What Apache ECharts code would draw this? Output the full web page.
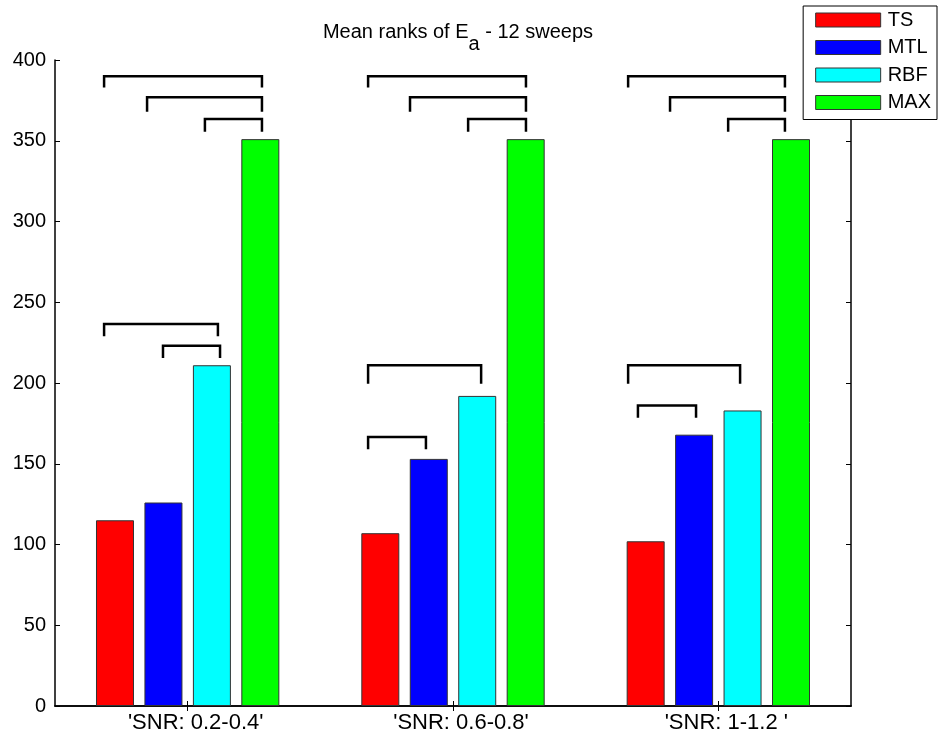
<!DOCTYPE html>
<html>
<head>
<meta charset="utf-8">
<script src="https://cdn.jsdelivr.net/npm/echarts@6/dist/echarts.min.js"></script>
<style>
  html, body { margin: 0; padding: 0; background: #fff; }
  #chart { width: 939px; height: 736px; }
</style>
</head>
<body>
<div id="chart"></div>
<script>
const categories = ["'SNR: 0.2-0.4'", "'SNR: 0.6-0.8'", "'SNR: 1-1.2 '"]
const methods = ['TS', 'MTL', 'RBF', 'MAX']
const tsValues = [115, 107, 102]
const mtlValues = [126, 153, 168]
const rbfValues = [211, 192, 183]
const maxValues = [351, 351, 351]
const yTicks = [0, 50, 100, 150, 200, 250, 300, 350, 400]

// significance brackets: [xStart, xEnd, top, bottom] in category units (1 = first group centre)
const brackets = [
  [0.685, 1.280, 390, 383], [0.847, 1.280, 377, 368], [1.065, 1.280, 363.5, 355.5],
  [0.685, 1.114, 236.5, 229], [0.907, 1.122, 223, 215.5],
  [1.680, 2.275, 390, 383], [1.838, 2.275, 377, 368], [2.057, 2.275, 363.5, 355.5],
  [1.680, 2.106, 211, 199.5], [1.680, 1.898, 166.5, 159],
  [2.660, 3.251, 390, 383], [2.818, 3.251, 377, 368], [3.037, 3.251, 363.5, 355.5],
  [2.660, 3.082, 211, 199.5], [2.697, 2.916, 186, 178.5]
]

const font = 'Arial, "Liberation Sans", Helvetica, sans-serif'
const colors = ['#ff0000', '#0000ff', '#00ffff', '#00ff00']
const seriesValues = [tsValues, mtlValues, rbfValues, maxValues]

const chart = echarts.init(document.getElementById('chart'))

const barSeries = methods.map((name, i) => ({
  name,
  type: 'bar',
  xAxisIndex: 0,
  yAxisIndex: 0,
  data: seriesValues[i],
  barWidth: 38,
  barGap: '27.5%',
  itemStyle: { color: colors[i], borderColor: '#333', borderWidth: 1 },
  emphasis: { disabled: true },
  animation: false
}))

const option = {
  backgroundColor: '#fff',
  animation: false,
  textStyle: { fontFamily: font },
  title: {
    text: '{n|Mean ranks of E}{s|a}{n| - 12 sweeps}',
    left: 453,
    top: 5,
    textAlign: 'center',
    textStyle: {
      fontWeight: 'normal',
      rich: {
        n: { fontFamily: font, fontSize: 20, fontWeight: 'normal', color: '#000' },
        s: { fontFamily: font, fontSize: 20, fontWeight: 'normal', color: '#000', padding: [24, 0, 0, 0] }
      }
    }
  },
  legend: {
    data: methods,
    orient: 'vertical',
    right: 2,
    top: 6,
    padding: [4, 6, 7, 12],
    itemWidth: 65,
    itemHeight: 14,
    itemGap: 7.5,
    backgroundColor: '#fff',
    borderColor: '#000',
    borderWidth: 1,
    icon: 'rect',
    itemStyle: { borderColor: '#333', borderWidth: 1 },
    textStyle: { fontFamily: font, fontSize: 20, color: '#000', padding: [0, 0, 0, 2] },
    selectedMode: false,
    z: 10
  },
  grid: { left: 55, right: 88, top: 60, bottom: 30 },
  xAxis: [
    {
      type: 'category',
      data: categories,
      position: 'bottom',
      axisLine: { lineStyle: { color: '#000', width: 1.5 } },
      axisTick: { show: true, inside: true, alignWithLabel: true, length: 5, lineStyle: { color: '#000' } },
      axisLabel: { color: '#000', fontSize: 22, fontFamily: font, margin: 6, padding: [0, 0, 0, 16] }
    },
    {
      type: 'category',
      data: categories,
      position: 'top',
      axisLine: { lineStyle: { color: '#000', width: 1.5 } },
      axisTick: { show: true, inside: true, alignWithLabel: true, length: 5, lineStyle: { color: '#000' } },
      axisLabel: { show: false }
    },
    {
      type: 'value',
      min: 0.5,
      max: 3.5,
      show: false
    }
  ],
  yAxis: [
    {
      type: 'value',
      min: yTicks[0],
      max: yTicks[yTicks.length - 1],
      interval: 50,
      position: 'left',
      axisLine: { show: true, lineStyle: { color: '#000', width: 1.5 } },
      axisTick: { show: true, inside: true, length: 5, lineStyle: { color: '#000' } },
      axisLabel: { color: '#000', fontSize: 20, fontFamily: font, margin: 9 },
      splitLine: { show: false }
    },
    {
      type: 'value',
      min: yTicks[0],
      max: yTicks[yTicks.length - 1],
      interval: 50,
      position: 'right',
      axisLine: { show: true, lineStyle: { color: '#000', width: 1.5 } },
      axisTick: { show: true, inside: true, length: 5, lineStyle: { color: '#000' } },
      axisLabel: { show: false },
      splitLine: { show: false }
    }
  ],
  series: [
    ...barSeries,
    {
      type: 'custom',
      name: 'brackets',
      xAxisIndex: 2,
      yAxisIndex: 0,
      data: brackets,
      silent: true,
      z: 5,
      renderItem(params, api) {
        const a = api.coord([api.value(0), api.value(3)])
        const b = api.coord([api.value(0), api.value(2)])
        const c = api.coord([api.value(1), api.value(2)])
        const d = api.coord([api.value(1), api.value(3)])
        return {
          type: 'polyline',
          shape: { points: [a, b, c, d] },
          style: { stroke: '#000', lineWidth: 2.5, fill: null }
        }
      }
    }
  ]
}

chart.setOption(option)
</script>
</body>
</html>
